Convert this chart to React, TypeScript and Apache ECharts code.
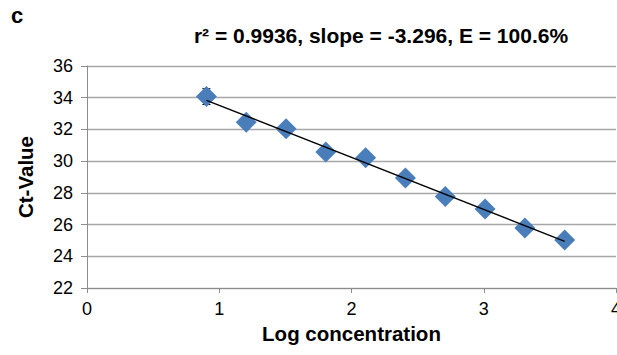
import React, { useEffect, useRef } from "react";
import * as echarts from "echarts";

const logConc = [0.903, 1.204, 1.505, 1.806, 2.107, 2.408, 2.709, 3.01, 3.311, 3.612];
const ctValues = [34.07, 32.46, 32.04, 30.58, 30.22, 28.93, 27.77, 26.98, 25.79, 25.03];
const ctErrors = [0.5, 0.15, 0.1, 0.15, 0.1, 0.1, 0.1, 0.1, 0.1, 0.1];
const xTicks = [0, 1, 2, 3, 4];
const yTicks = [22, 24, 26, 28, 30, 32, 34, 36];
const titleText = "r² = 0.9936, slope = -3.296, E = 100.6%";
const panelLabel = "c";

function fit(xs: number[], ys: number[]) {
  const n = xs.length;
  const mx = xs.reduce((a, b) => a + b, 0) / n;
  const my = ys.reduce((a, b) => a + b, 0) / n;
  let sxy = 0, sxx = 0;
  for (let i = 0; i < n; i++) {
    sxy += (xs[i] - mx) * (ys[i] - my);
    sxx += (xs[i] - mx) * (xs[i] - mx);
  }
  const slope = sxy / sxx;
  return { slope, intercept: my - slope * mx };
}

export default function App() {
  const ref = useRef<HTMLDivElement>(null);
  useEffect(() => {
    if (!ref.current) return;
    const chart = echarts.init(ref.current, null, { renderer: "svg" });
    const { slope, intercept } = fit(logConc, ctValues);
    const x0 = logConc[0];
    const x1 = logConc[logConc.length - 1];
    const font = "'Liberation Sans', Arial, sans-serif";
    chart.setOption({
      animation: false,
      backgroundColor: "#ffffff",
      textStyle: { fontFamily: font },
      title: [
        {
          text: panelLabel,
          left: 11,
          top: 4,
          padding: 0,
          textStyle: { fontSize: 22, fontWeight: "bold", color: "#000", fontFamily: font },
        },
        {
          text: titleText,
          left: 381,
          textAlign: "center",
          top: 25,
          padding: 0,
          textStyle: { fontSize: 21, fontWeight: "bold", color: "#000", fontFamily: font },
        },
      ],
      grid: {
        left: 87,
        right: 1,
        top: 66,
        bottom: 67,
        containLabel: false,
        outerBoundsMode: "none",
      },
      xAxis: {
        type: "value",
        min: xTicks[0],
        max: xTicks[xTicks.length - 1],
        interval: 1,
        name: "Log concentration",
        nameLocation: "middle",
        nameGap: 33,
        nameTextStyle: { fontSize: 20.5, fontWeight: "bold", color: "#000", fontFamily: font },
        axisLine: { show: true, lineStyle: { color: "#8c8c8c", width: 1 } },
        axisTick: { show: true, length: 5, lineStyle: { color: "#8c8c8c" } },
        axisLabel: { fontSize: 18, color: "#000", margin: 12, fontFamily: font },
        splitLine: { show: false },
      },
      yAxis: {
        type: "value",
        min: yTicks[0],
        max: yTicks[yTicks.length - 1],
        interval: 2,
        name: "Ct-Value",
        nameLocation: "middle",
        nameGap: 51,
        nameRotate: 90,
        nameTextStyle: { fontSize: 20.5, fontWeight: "bold", color: "#000", fontFamily: font },
        axisLine: { show: true, lineStyle: { color: "#8c8c8c", width: 1 } },
        axisTick: { show: true, length: 6, lineStyle: { color: "#8c8c8c" } },
        axisLabel: { fontSize: 18, color: "#000", margin: 14, fontFamily: font },
        splitLine: { show: true, lineStyle: { color: "#a6a6a6", width: 1.3 } },
      },
      series: [
        {
          type: "custom",
          z: 1,
          data: logConc.map((x, i) => [x, ctValues[i], ctErrors[i]]),
          renderItem: (params: any, api: any) => {
            const x = api.value(0);
            const y = api.value(1);
            const e = api.value(2);
            const top = api.coord([x, y + e]);
            const bot = api.coord([x, y - e]);
            const w = 4;
            const style = { stroke: "#000", lineWidth: 1 };
            return {
              type: "group",
              children: [
                { type: "line", shape: { x1: top[0], y1: top[1], x2: bot[0], y2: bot[1] }, style },
                { type: "line", shape: { x1: top[0] - w, y1: top[1], x2: top[0] + w, y2: top[1] }, style },
                { type: "line", shape: { x1: bot[0] - w, y1: bot[1], x2: bot[0] + w, y2: bot[1] }, style },
              ],
            };
          },
        },
        {
          type: "scatter",
          z: 10,
          symbol: "diamond",
          symbolSize: 21,
          itemStyle: { color: "#4a7ebb", opacity: 1 },
          data: logConc.map((x, i) => [x, ctValues[i]]),
        },
        {
          type: "line",
          z: 20,
          showSymbol: false,
          symbol: "none",
          lineStyle: { color: "#000", width: 1.4 },
          data: [
            [x0, intercept + slope * x0],
            [x1, intercept + slope * x1],
          ],
        },
      ],
    });
    return () => chart.dispose();
  }, []);
  return (
    <div
      ref={ref}
      style={{ position: "absolute", left: 0, top: 0, width: 617, height: 355 }}
    />
  );
}
